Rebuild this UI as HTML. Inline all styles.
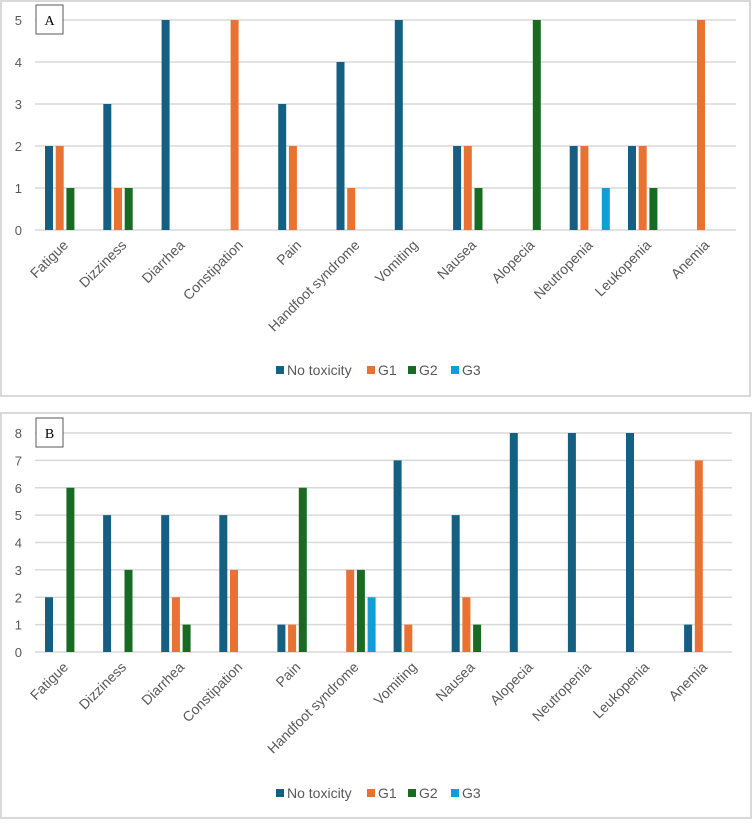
<!DOCTYPE html>
<html><head><meta charset="utf-8"><style>
body{margin:0;background:#fff;font-family:"Liberation Sans",sans-serif;}
svg{display:block}
</style></head><body>
<svg id="c" width="753" height="824"></svg>
<script>
const categories=["Fatigue","Dizziness","Diarrhea","Constipation","Pain","Handfoot syndrome","Vomiting","Nausea","Alopecia","Neutropenia","Leukopenia","Anemia"];
const seriesNames=["No toxicity","G1","G2","G3"];
const colors=["#156082","#E97132","#196B24","#0F9ED5"];
const aNo=[2,3,5,0,3,4,5,2,0,2,2,0];
const aG1=[2,1,0,5,2,1,0,2,0,2,2,5];
const aG2=[1,1,0,0,0,0,0,1,5,0,1,0];
const aG3=[0,0,0,0,0,0,0,0,0,1,0,0];
const bNo=[2,5,5,5,1,0,7,5,8,8,8,1];
const bG1=[0,0,2,3,1,3,1,2,0,0,0,7];
const bG2=[6,3,1,0,6,3,0,1,0,0,0,0];
const bG3=[0,0,0,0,0,2,0,0,0,0,0,0];
const ticksA=[0,1,2,3,4,5];
const ticksB=[0,1,2,3,4,5,6,7,8];
const NS="http://www.w3.org/2000/svg";
const svg=document.getElementById('c');
function mk(t,a,p){const e=document.createElementNS(NS,t);for(const k in a)e.setAttribute(k,a[k]);(p||svg).appendChild(e);return e;}
function chart(o){
  const g=mk('g',{});
  
  
  const frame=mk('rect',{x:o.fx,y:o.fy,width:o.fw,height:o.fh,fill:'#fff',stroke:'#d9d9d9','stroke-width':2},g);
  
  
  const ymax=o.ticks[o.ticks.length-1];
  const y=v=>o.y0-(o.y0-o.yTop)*v/ymax;
  const pitch=o.pitch, bw=8, step=10.7;
  const xg=i=>45+i*pitch;
  o.ticks.forEach(t=>{
    const l=mk('line',{x1:35,x2:o.xr,y1:y(t),y2:y(t),stroke:'#d9d9d9','stroke-width':1.5},g);
    
    
    const tx=mk('text',{x:22,y:y(t)+5,'text-anchor':'end','font-size':13,fill:'#595959'},g);
    tx.textContent=t;
    
    
  });
  o.series.forEach((s,si)=>{
    s.forEach((v,i)=>{
      if(v<=0)return;
      const r=mk('rect',{x:xg(i)+si*step,y:y(v),width:bw,height:o.y0-y(v),fill:colors[si]},g);
      
      
    });
  });
  categories.forEach((c,i)=>{
    const cx=xg(i)+24, cy=o.y0+16;
    const t=mk('text',{x:cx,y:cy,'text-anchor':'end','font-size':14,fill:'#595959',transform:`rotate(-45 ${cx} ${cy})`},g);
    t.textContent=c;
    
    
  });
  const lg=mk('g',{},g);
  
  
  let lx=[276,367,408,451];
  seriesNames.forEach((n,si)=>{
    const r=mk('rect',{x:lx[si],y:o.ly-9,width:8,height:8,fill:colors[si]},lg);
    
    
    const t=mk('text',{x:lx[si]+11,y:o.ly,'font-size':14,fill:'#595959'},lg);
    t.textContent=n;
    
    
  });
  const b=mk('rect',{x:36,y:o.by,width:27,height:29,fill:'#fff',stroke:'#595959','stroke-width':1},g);
  
  
  const bt=mk('text',{x:49.5,y:o.by+20,'text-anchor':'middle','font-size':14,'font-family':'Liberation Serif, serif',fill:'#000'},g);
  bt.textContent=o.label;
  
  
}
chart({name:'chart-a',label:'A',fx:1,fy:1,fw:749,fh:395,y0:230,yTop:20,xr:736,pitch:58.3,ticks:ticksA,series:[aNo,aG1,aG2,aG3],ly:375,by:5});
chart({name:'chart-b',label:'B',fx:1,fy:413,fw:750,fh:405,y0:652,yTop:433,xr:732,pitch:58.1,ticks:ticksB,series:[bNo,bG1,bG2,bG3],ly:798,by:418});
</script>
</body></html>
